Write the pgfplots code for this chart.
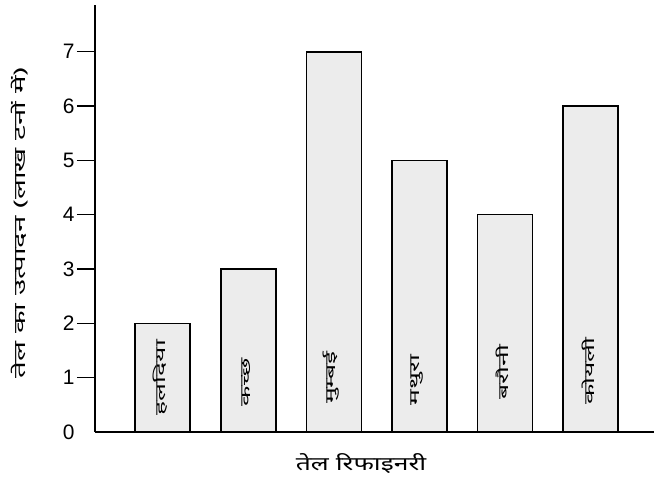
\documentclass[border=0pt]{standalone}
\usepackage{fontspec}
\setmainfont[Script=Devanagari]{Noto Sans}
\newfontfamily\latinsans{Liberation Sans}
\usepackage{pgfplots}
\pgfplotsset{compat=1.18}
\usetikzlibrary{calc}
\definecolor{barfill}{RGB}{236,236,236}
\newcommand{\dev}[2]{\scalebox{#1}[1]{#2}}
\begin{document}
\begin{tikzpicture}
\begin{axis}[
  name=ax, at={(0,0)}, anchor=south west,
  scale only axis, width=559bp, height=427bp,
  xmin=-0.79, xmax=5.74, ymin=0, ymax=7.86,
  axis x line=bottom, axis y line=left,
  axis line style={-, line width=1.5pt},
  xtick=\empty,
  ytick={1,2,3,4,5,6,7},
  tick align=outside,
  major tick length=18bp,
  ytick style={line width=1.3pt, draw=black},
  /pgf/number format/assume math mode=true,
  yticklabel style={font=\latinsans\fontsize{21}{21}\selectfont, xshift=1bp},
  ybar, bar width=55bp,
  ylabel={\dev{1.85}{तेल का उत्पादन (लाख टनों में)}},
  ylabel style={at={(axis description cs:-0.134,0.49)}, anchor=center, font=\fontsize{16}{16}\selectfont},
  xlabel={\dev{1.4}{तेल रिफाइनरी}},
  xlabel style={at={(axis description cs:0.476,-0.073)}, anchor=center, font=\fontsize{19}{19}\selectfont},
]
\addplot[fill=barfill, draw=black, line width=1.6pt] coordinates {(0,2) (1,3) (2,7) (3,5) (4,4) (5,6)};
\node[rotate=90, font=\fontsize{14}{14}\selectfont] at (axis cs:-0.03,1.0) {\dev{1.9}{हलदिया}};
\node[rotate=90, font=\fontsize{14}{14}\selectfont] at (axis cs:0.97,0.92) {\dev{1.9}{कच्छ}};
\node[rotate=90, font=\fontsize{14}{14}\selectfont] at (axis cs:1.97,1.0) {\dev{1.9}{मुम्बई}};
\node[rotate=90, font=\fontsize{14}{14}\selectfont] at (axis cs:2.97,0.96) {\dev{1.9}{मथुरा}};
\node[rotate=90, font=\fontsize{14}{14}\selectfont] at (axis cs:3.97,1.1) {\dev{1.9}{बरौनी}};
\node[rotate=90, font=\fontsize{14}{14}\selectfont] at (axis cs:4.97,1.12) {\dev{1.9}{कोयली}};
\end{axis}
\node[anchor=east, font=\latinsans\fontsize{21}{21}\selectfont] at ($(ax.south west)+(-17bp,0)$) {0};
\pgfresetboundingbox
\path ($(ax.south west)+(-95bp,-52bp)$) rectangle ($(ax.north east)+(0bp,5bp)$);
\end{tikzpicture}
\end{document}
